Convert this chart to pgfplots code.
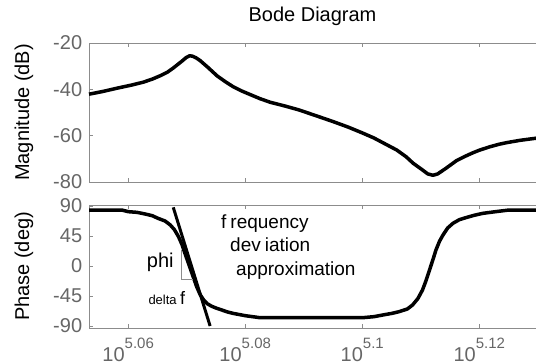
\documentclass[border=0pt]{standalone}
\usepackage{pgfplots}
\pgfplotsset{compat=1.18}
\usepackage{fontspec}
\setmainfont{Liberation Sans}
\definecolor{axgray}{gray}{0.55}
\definecolor{labgray}{gray}{0.4}
\newcommand{\tenexp}[1]{10\raisebox{0.68em}{\fontsize{15}{15}\selectfont #1}}

\pgfplotstableread{
x mag
5.0533 -42.1
5.0557 -40.9
5.0581 -39.5
5.0605 -38.2
5.0626 -36.9
5.0642 -35.5
5.0655 -34.1
5.0667 -32.6
5.0677 -30.8
5.0685 -29.2
5.0692 -27.8
5.0699 -26.3
5.0705 -25.5
5.0710 -25.7
5.0716 -26.4
5.0723 -27.6
5.0737 -30.7
5.0752 -34.2
5.0766 -36.7
5.0779 -38.8
5.0793 -40.6
5.0808 -42.2
5.0825 -44.0
5.0843 -45.6
5.0868 -47.2
5.0892 -48.9
5.0920 -51.3
5.0950 -53.9
5.0976 -56.3
5.1001 -58.9
5.1020 -61.0
5.1035 -63.0
5.1059 -66.2
5.1075 -69.1
5.1087 -71.9
5.1103 -74.8
5.1112 -76.5
5.1121 -77.1
5.1129 -76.5
5.1143 -74.1
5.1161 -70.8
5.1175 -69.0
5.1189 -67.4
5.1201 -66.2
5.1218 -64.8
5.1234 -63.7
5.1247 -63.0
5.1270 -62.0
5.1297 -61.1
}\magtable

\pgfplotstableread{
x ph
5.0533 84
5.0589 84
5.0600 81.5
5.0615 80.5
5.0629 78
5.0641 75.5
5.0651 71.5
5.0663 67.5
5.0672 61.5
5.0679 54.5
5.0686 44
5.0692 32
5.0697 19
5.0703 4
5.0709 -11
5.0717 -31
5.0723 -43
5.0729 -51
5.0735 -56.5
5.0743 -60.5
5.0750 -63
5.0760 -66
5.0770 -69
5.0779 -71
5.0800 -74.5
5.0825 -77.5
5.1001 -77.5
5.1020 -76.0
5.1035 -73.5
5.1051 -71
5.1063 -68.5
5.1077 -64.5
5.1086 -58.5
5.1095 -49
5.1103 -36
5.1109 -22
5.1115 -6
5.1121 10
5.1126 24
5.1132 37
5.1138 46.5
5.1146 57
5.1155 64
5.1166 69.5
5.1177 72.5
5.1191 76
5.1206 79
5.1228 81.5
5.1251 84
5.1297 84
}\phtable

\begin{document}
\fontsize{20}{24}\selectfont
\begin{tikzpicture}
\pgfplotsset{
  every axis/.append style={
    scale only axis, width=447pt,
    xmin=5.0533, xmax=5.1297,
    axis x line*=box, axis y line*=left,
    axis line style={axgray, line width=0.8pt},
    tick align=inside, xtick pos=both, ytick pos=left,
    major tick length=4pt,
    every tick/.style={axgray, line width=0.8pt},
    tick label style={font=\fontsize{20}{24}\selectfont, text=labgray},
    label style={font=\fontsize{20}{24}\selectfont},
    every axis y label/.style={at={(axis description cs:0,0.5)}, xshift=-65pt, rotate=90, anchor=center},
    xtick={5.06,5.08,5.1,5.12},
    clip=false,
  },
}
\begin{axis}[
  at={(89pt,-182pt)}, anchor=south west,
  height=139pt,
  ymin=-80, ymax=-20,
  ytick={-80,-60,-40,-20},
  yticklabels={-80,-60,-40,-20},
  xticklabels={},
  ylabel={Magnitude (dB)},
  title={Bode Diagram},
  title style={at={(0.5,1)}, anchor=base, yshift=16pt, font=\fontsize{20}{24}\selectfont},
]
\addplot[black, line width=3.5pt, line join=round] table[x=x, y=mag] {\magtable};
\end{axis}

\begin{axis}[
  at={(89pt,-328pt)}, anchor=south west,
  height=123pt,
  ymin=-93, ymax=91.5,
  ytick={-90,-45,0,45,90},
  yticklabels={-90,-45,0,45,90},
  xticklabels={\tenexp{5.06},\tenexp{5.08},\tenexp{5.1},\tenexp{5.12}},
  xticklabel style={yshift=-3pt},
  ylabel={Phase (deg)},
]
\addplot[black, line width=3.5pt, line join=round] table[x=x, y=ph] {\phtable};
\addplot[black, line width=3pt] coordinates {(5.0677,88) (5.0740,-90)};
\addplot[axgray, line width=0.8pt] coordinates {(5.06905,24) (5.06905,-20) (5.07115,-20)};
\end{axis}

\node[anchor=base west, inner sep=0] at (146.7pt,-267pt) {phi};
\node[anchor=base west, inner sep=0] at (148.3pt,-304pt) {\fontsize{13}{15}\selectfont delta};
\node[anchor=base west, inner sep=0] at (180pt,-304pt) {\fontsize{18}{20}\selectfont f};
\begin{scope}[font=\fontsize{19}{22}\selectfont]
\node[anchor=base west, inner sep=0] at (221pt,-228.3pt) {f\hspace{4pt}requency};
\node[anchor=base west, inner sep=0] at (230pt,-251.7pt) {dev\hspace{4pt}iation};
\node[anchor=base west, inner sep=0] at (236pt,-275pt) {approximation};
\end{scope}

\pgfresetboundingbox
\useasboundingbox (0,0) rectangle (536pt,-362pt);
\end{tikzpicture}
\end{document}
